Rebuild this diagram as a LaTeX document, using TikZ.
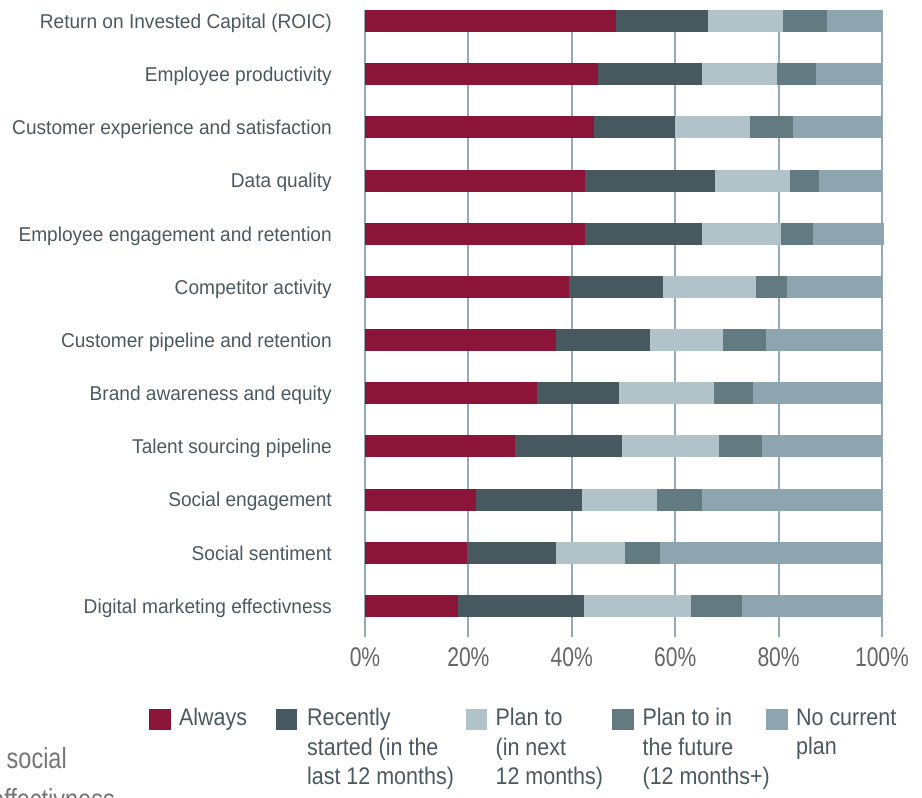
\documentclass[tikz,border=0pt]{standalone}
\usepackage{fontspec}
\setmainfont{Liberation Sans}
\newfontfamily\catfont{Liberation Sans}[FakeStretch=0.955]
\newfontfamily\legfont{Liberation Sans}[FakeStretch=0.895]
\newfontfamily\tickfont{Liberation Sans}[FakeStretch=0.78]
\newfontfamily\backfont{Liberation Sans}[FakeStretch=0.81]
\usetikzlibrary{positioning}

\definecolor{always}{HTML}{8B1538}
\definecolor{recent}{HTML}{47585F}
\definecolor{planto}{HTML}{B1C3C8}
\definecolor{future}{HTML}{627A80}
\definecolor{nocurr}{HTML}{8EA5B0}
\definecolor{gridc}{HTML}{94AAB4}
\definecolor{labelc}{HTML}{4A5960}
\definecolor{tickc}{HTML}{666666}

\begin{document}
\begin{tikzpicture}[x=1pt,y=-1pt]

	\tikzset{cat lbl/.style={anchor=base east, inner sep=0pt, text=labelc,
			font=\catfont\fontsize{20}{24}\selectfont},
		tick lbl/.style={anchor=base, inner sep=0pt, text=tickc,
			font=\tickfont\fontsize{27}{30}\selectfont},
		leg box/.style={anchor=north west, minimum size=21.5pt, inner sep=0pt},
		leg lbl/.style={anchor=north west, inner sep=0pt, align=left, text=labelc,
			font=\legfont\fontsize{24}{29.3}\selectfont},
		back lbl/.style={anchor=base west, inner sep=0pt, text=tickc!90,
			font=\backfont\fontsize{29}{32}\selectfont}}

	\useasboundingbox (0,0) rectangle (922,798);

	% grid and axis
	\foreach \p [count=\k] in {0,20,40,60,80,100}{
		\draw[gridc, line width=2pt] ({365+5.17*\p},10) -- ({365+5.17*\p},637);
		\node[tick lbl] (tick\k) at ({365+5.17*\p},666) {\p\%};
	}

	% bars
	\foreach \lab/\a/\b/\c/\d/\e [count=\i] in {
		Return on Invested Capital (ROIC)/48.5/66.3/80.8/89.3/100,
		Employee productivity/45.0/65.2/79.7/87.2/100,
		Customer experience and satisfaction/44.2/60.0/74.4/82.7/100,
		Data quality/42.5/67.7/82.2/87.8/100,
		Employee engagement and retention/42.5/65.2/80.4/86.6/100.4,
		Competitor activity/39.4/57.6/75.6/81.6/100,
		Customer pipeline and retention/36.9/55.1/69.2/77.5/100,
		Brand awareness and equity/33.2/49.1/67.5/75.0/100,
		Talent sourcing pipeline/29.0/49.7/68.4/76.7/100,
		Social engagement/21.5/42.0/56.4/65.2/100,
		Social sentiment/19.7/37.0/50.2/57.0/100,
		Digital marketing effectivness/18.0/42.3/63.0/72.9/100}{
		\pgfmathsetmacro\yc{21+53.18*(\i-1)}
		\fill[always] (365,\yc-11) rectangle ({365+5.17*\a},\yc+11);
		\fill[recent] ({365+5.17*\a},\yc-11) rectangle ({365+5.17*\b},\yc+11);
		\fill[planto] ({365+5.17*\b},\yc-11) rectangle ({365+5.17*\c},\yc+11);
		\fill[future] ({365+5.17*\c},\yc-11) rectangle ({365+5.17*\d},\yc+11);
		\fill[nocurr] ({365+5.17*\d},\yc-11) rectangle ({365+5.17*\e},\yc+11);
		\node[cat lbl] (row\i) at (332,\yc+7.3) {\lab};
	}

	% legend
	\node[leg box, fill=always] (boxA) at (149,708.3) {};
	\node[leg lbl, right=8pt of boxA.north east, anchor=north west] (legA) {Always};
	\node[leg box, fill=recent] (boxR) at (275.5,708.3) {};
	\node[leg lbl, right=9.5pt of boxR.north east, anchor=north west] (legR) {Recently\\started (in the\\last 12 months)};
	\node[leg box, fill=planto] (boxP) at (465.5,708.3) {};
	\node[leg lbl, right=8pt of boxP.north east, anchor=north west] (legP) {Plan to\\(in next\\12 months)};
	\node[leg box, fill=future] (boxF) at (612,708.3) {};
	\node[leg lbl, right=8.5pt of boxF.north east, anchor=north west] (legF) {Plan to in\\the future\\(12 months+)};
	\node[leg box, fill=nocurr] (boxN) at (766,708.3) {};
	\node[leg lbl, right=8pt of boxN.north east, anchor=north west] (legN) {No current\\plan};

	% text of the page behind
	\node[back lbl] (backA) at (6.5,768.5) {social};
	\node[back lbl, anchor=base east] (backB) at (115,809) {effectivness};

\end{tikzpicture}
\end{document}
